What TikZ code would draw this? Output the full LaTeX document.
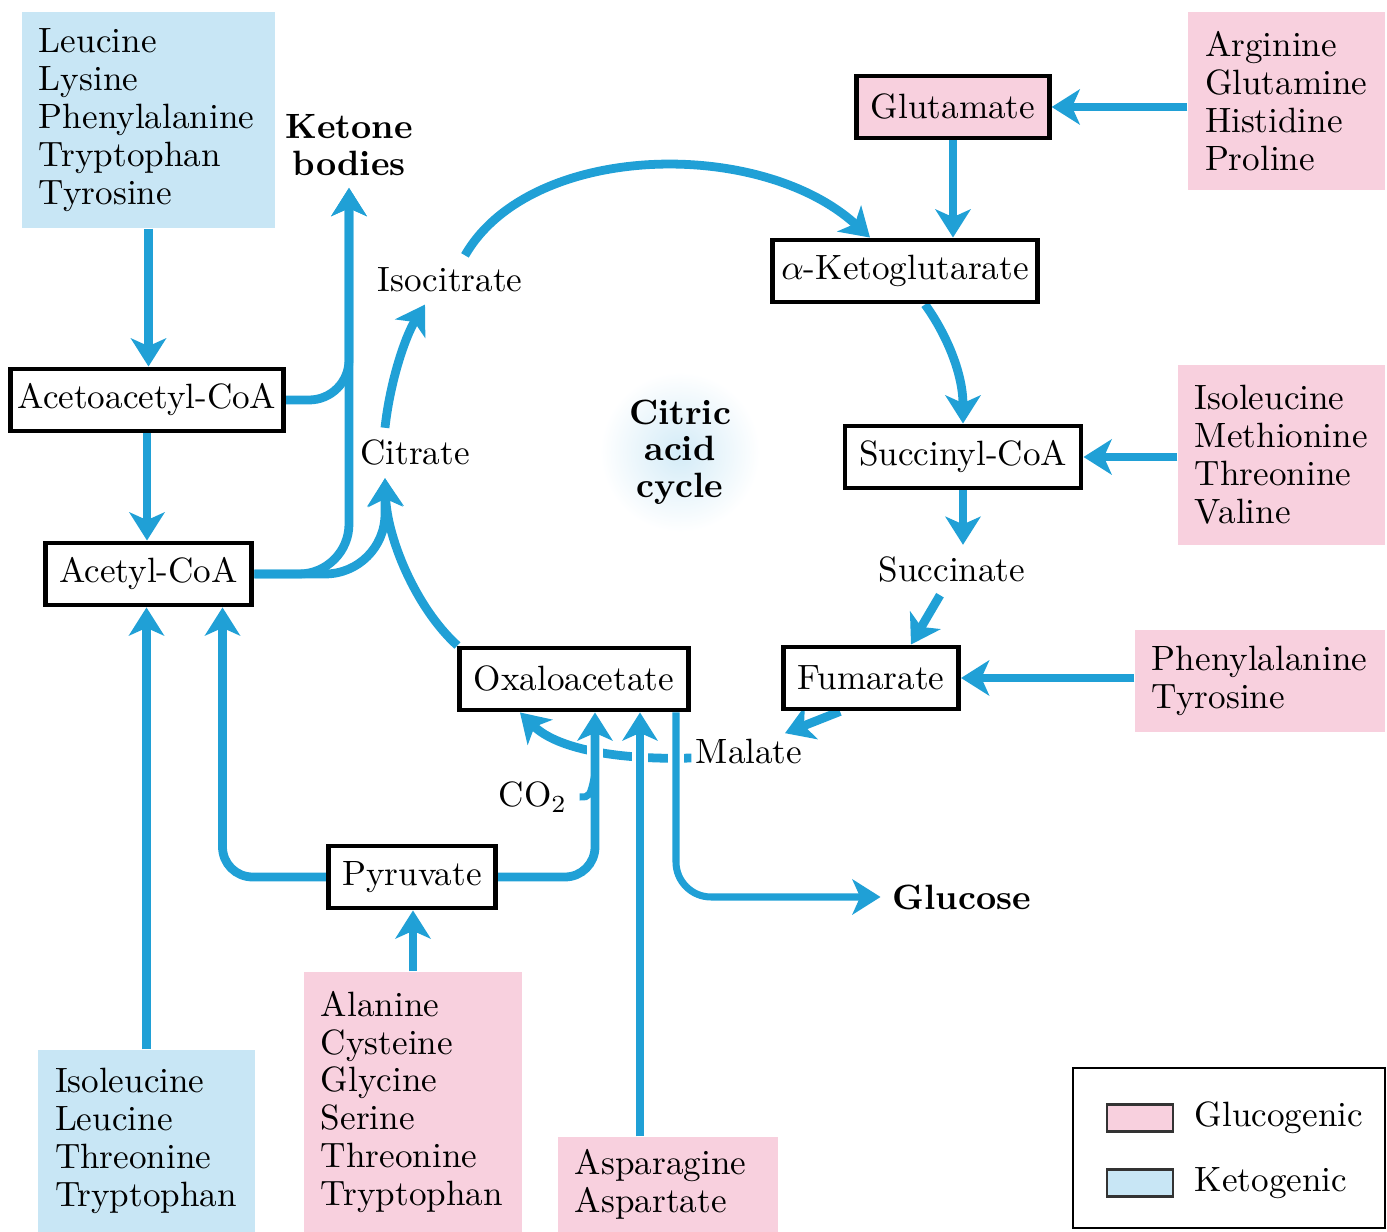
\documentclass[tikz,border=0pt]{standalone}
\usepackage{tikz}
\usetikzlibrary{arrows.meta, positioning, backgrounds}
\usepackage{xcolor}
\definecolor{flowblue}{RGB}{32, 160, 214}
\definecolor{glucopink}{RGB}{248, 208, 222}
\definecolor{ketoblue}{RGB}{200, 230, 245}

\tikzset{
	metab/.style={draw=black, line width=1.4pt, fill=white, inner xsep=4pt, minimum height=0.62cm},
	aabox/.style={inner xsep=0.17cm, inner ysep=0pt, align=left},
	ketobox/.style={aabox, fill=ketoblue},
	glucobox/.style={aabox, fill=glucopink},
	boldlabel/.style={font=\fontsize{10}{10.4}\selectfont\bfseries},
	flow/.style={draw=flowblue, line width=2.5pt, -{Stealth[length=8pt, width=10pt, inset=2.2pt]}},
	halo/.style={preaction={draw=white, line width=4.5pt, -}},
	swatch/.style={draw=black!80, line width=0.8pt, minimum width=0.66cm, minimum height=0.27cm, inner sep=0pt}
}

\begin{document}
\begin{tikzpicture}[scale=1.0, font=\fontsize{10}{10.8}\selectfont]
				\useasboundingbox (0,0) rectangle (13.87,12.32);
				% amino acid groups (blue = ketogenic, pink = glucogenic)
				\node[ketobox, minimum width=2.53cm, minimum height=2.16cm, text width=2.19cm] (leuGroup) at (1.485,11.12)
				{Leucine\\Lysine\\Phenylalanine\\Tryptophan\\Tyrosine};
				\node[ketobox, minimum width=2.17cm, minimum height=1.82cm, text width=1.83cm] (ileGroup) at (1.465,0.91)
				{Isoleucine\\Leucine\\Threonine\\Tryptophan};
				\node[glucobox, minimum width=1.97cm, minimum height=1.78cm, text width=1.63cm] (argGroup) at (12.865,11.31)
				{Arginine\\Glutamine\\Histidine\\Proline};
				\node[glucobox, minimum width=2.07cm, minimum height=1.80cm, text width=1.73cm] (metGroup) at (12.815,7.77)
				{Isoleucine\\Methionine\\Threonine\\Valine};
				\node[glucobox, minimum width=2.50cm, minimum height=1.02cm, text width=2.16cm] (pheGroup) at (12.60,5.51)
				{Phenylalanine\\Tyrosine};
				\node[glucobox, minimum width=2.18cm, minimum height=2.60cm, text width=1.84cm] (alaGroup) at (4.13,1.30)
				{Alanine\\Cysteine\\Glycine\\Serine\\Threonine\\Tryptophan};
				\node[glucobox, minimum width=2.20cm, minimum height=0.95cm, text width=1.86cm] (asnGroup) at (6.68,0.475)
				{Asparagine\\Aspartate};
				% boxed intermediates
				\node[metab, inner xsep=2pt] (acac) at (1.47,8.32) {Acetoacetyl-CoA};
				\node[metab] (acetyl) at (1.485,6.58) {Acetyl-CoA};
				\node[metab] (oxalo) at (5.74,5.53) {Oxaloacetate};
				\node[metab] (pyr) at (4.12,3.55) {Pyruvate};
				\node[metab] (fum) at (8.71,5.54) {Fumarate};
				\node[metab] (succ) at (9.63,7.75) {Succinyl-CoA};
				\node[metab, inner xsep=2.5pt] (akg) at (9.05,9.61) {$\alpha$-Ketoglutarate};
				\node[metab, fill=glucopink] (glu) at (9.53,11.25) {Glutamate};
				% plain labels
				\node (citrate) at (4.15,7.79) {Citrate};
				\node (isocit) at (4.50,9.52) {Isocitrate};
				\node (succinate) at (9.52,6.62) {Succinate};
				\node (malate) at (7.49,4.80) {Malate};
				\node (co2) at (5.33,4.35) {CO$_2$};
				\node[boldlabel, align=center] (ketone) at (3.49,10.87) {Ketone\\bodies};
				\node[boldlabel] (glucose) at (9.62,3.35) {Glucose};
				\node[boldlabel, align=center] (cycle) at (6.80,7.80) {Citric\\acid\\cycle};
				% legend
				\node[draw=black, line width=0.6pt, minimum width=3.12cm, minimum height=1.60cm] (legend) at (12.29,0.84) {};
				\node[swatch, fill=glucopink] (swG) at (11.40,1.14) {};
				\node[swatch, fill=ketoblue] (swK) at (11.40,0.49) {};
				\node[right=0.08cm of swG] (lblG) {Glucogenic};
				\node[right=0.08cm of swK] (lblK) {Ketogenic};
				\begin{scope}[on background layer]
				% glow behind the cycle name
				\shade[inner color=ketoblue!80, outer color=white] (cycle) circle (0.8cm);
				% ketogenic side
				\draw[flow] (leuGroup.south) -- (leuGroup.south |- acac.north);
				\draw[flow] (acac.south) -- (acac.south |- acetyl.north);
				\draw[flow] (ileGroup.north) -- (ileGroup.north |- acetyl.south);
				\draw[flow, rounded corners=0.4cm] (acac.east) -| (ketone.south);
				\draw[flow, rounded corners=0.5cm] (acetyl.east) -| (ketone.south);
				\draw[flow, rounded corners=0.6cm] (acetyl.east) -| ([xshift=-0.3cm]citrate.south);
				% the cycle
				\draw[flow] (oxalo.north west) .. controls (4.15,6.25) and (3.87,6.95) .. ([xshift=-0.3cm]citrate.south);
				\draw[flow] ([xshift=-0.3cm]citrate.north) .. controls (3.90,8.50) and (4.05,8.95) .. ([xshift=-0.25cm]isocit.south);
				\draw[flow] ([xshift=0.15cm]isocit.north) .. controls (5.30,10.90) and (7.60,10.95) .. ([xshift=-0.35cm]akg.north);
				\draw[flow] ([xshift=0.2cm]akg.south) .. controls (9.45,9.00) and (9.63,8.60) .. (succ.north);
				\draw[flow] (succ.south) -- (succ.south |- succinate.north);
				\draw[flow] ([xshift=-0.12cm]succinate.south) -- ([xshift=0.4cm]fum.north);
				\draw[flow] ([xshift=-0.31cm]fum.south) -- ([xshift=0.36cm, yshift=-0.06cm]malate.north);
				\draw[flow] ([xshift=0.08cm, yshift=-0.06cm]malate.west) .. controls (6.30,4.72) and (5.60,4.80) .. ([xshift=-0.54cm]oxalo.south);
				% entry points on the right
				\draw[flow] (argGroup.west |- glu.east) -- (glu.east);
				\draw[flow] (glu.south) -- (glu.south |- akg.north);
				\draw[flow] (metGroup.west |- succ.east) -- (succ.east);
				\draw[flow] (pheGroup.west |- fum.east) -- (fum.east);
				% pyruvate and the bottom inputs
				\draw[flow] (alaGroup.north) -- (alaGroup.north |- pyr.south);
				\draw[flow, rounded corners=0.3cm] (pyr.west) -| ([xshift=0.74cm]acetyl.south);
				\draw[flow, halo, rounded corners=0.3cm] (pyr.east) -| ([xshift=0.21cm]oxalo.south);
				\draw[flow, halo] ([xshift=0.66cm]oxalo.south |- asnGroup.north) -- ([xshift=0.66cm]oxalo.south);
				\draw[flow, halo, line width=2pt, rounded corners=0.35cm] ([xshift=1.02cm]oxalo.south) |- (glucose.west);
				\coordinate (co2in) at (5.95,4.58);
				\draw[flowblue, line width=2pt] (co2.east) .. controls (5.90,4.35) .. (co2in);
				\end{scope}
			\end{tikzpicture}
\end{document}
